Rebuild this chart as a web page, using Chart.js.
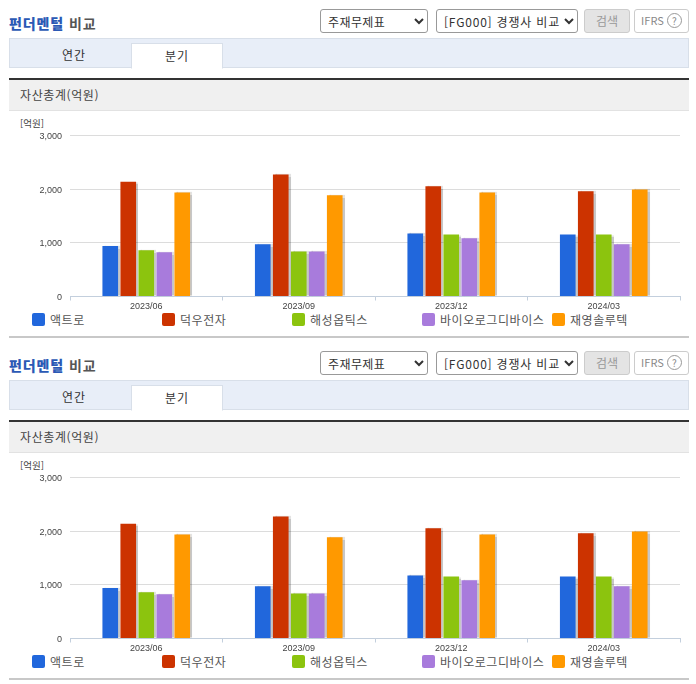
<!DOCTYPE html>
<html lang="ko"><head><meta charset="utf-8">
<script src="https://cdn.jsdelivr.net/npm/chart.js@4"></script>
<style>
html,body{margin:0;padding:0;background:#fff;width:696px;height:684px;overflow:hidden;font-family:"Noto Sans CJK KR",sans-serif;color:#333}
.panel{position:absolute;left:0;width:696px;height:342px}
.a{position:absolute;white-space:nowrap}
.title{left:9px;top:13px;font-size:14px;font-weight:700;line-height:20px;color:#555;letter-spacing:.9px}
.title b{color:#2b59b5}
select{position:absolute;top:9px;height:24px;font:12px "Noto Sans CJK KR",sans-serif;color:#333;background:#fff;border:1px solid #999;border-radius:3px;padding:0 0 0 3px}
.btn{top:9px;height:22px;line-height:21px;text-align:center;font-size:12px;border-radius:3px;box-sizing:content-box}
.tabs{left:9px;top:38px;width:678px;height:28px;background:#e8eef8;border:1px solid #d8dfe9}
.tab{top:43px;left:131px;width:90px;height:24px;background:#fff;border:1px solid #d8dfe9;border-bottom:1px solid #fff;line-height:23px;text-align:center;font-size:12px;letter-spacing:1px}
.head{left:9px;top:78px;width:680px;height:30px;background:#f0f0f0;border-top:2px solid #333;border-bottom:1px solid #e2e2e2;line-height:30px;font-size:12px;color:#444;text-indent:11px;letter-spacing:.6px}
.rule{left:9px;top:336px;width:680px;height:2px;background:#c8c8c8}
.unit{left:20px;top:117px;font-size:9.5px;line-height:12px;color:#444}
.sw{width:13px;height:13px;border-radius:2px;top:313px}
.lg{top:311px;font-size:12px;line-height:17px;color:#555;letter-spacing:.55px}
canvas{position:absolute;left:0;top:112px}
</style></head><body>
<script>
const categories = ["2023/06","2023/09","2023/12","2024/03"];
const companies = ["액트로","덕우전자","해성옵틱스","바이오로그디바이스","재영솔루텍"];
const colors = ["#2167dc","#cc3300","#8cc40e","#a87bdc","#ff9900"];
const actro = [940,975,1175,1155];
const deokwoo = [2140,2275,2055,1960];
const haesung = [860,840,1155,1155];
const biolog = [825,840,1085,975];
const jaeyoung = [1940,1885,1940,1995];
const seriesValues = [actro,deokwoo,haesung,biolog,jaeyoung];
const yTicks = [0,1000,2000,3000];
const metricTitle = "자산총계(억원)";
const legendX = [32,162,292,422,552];

const barShadow = {
  id:'barShadow',
  beforeDatasetsDraw(c){c.ctx.save();c.ctx.shadowColor='rgba(0,0,0,0.22)';c.ctx.shadowOffsetX=2;c.ctx.shadowOffsetY=0;c.ctx.shadowBlur=1;},
  afterDatasetsDraw(c){c.ctx.restore();}
};

function panel(top){
  const p=document.createElement('div');p.className='panel';p.style.top=top+'px';
  p.innerHTML=`
  <div class="a title"><b>펀더멘털</b> 비교</div>
  <select style="left:320px;width:108px;letter-spacing:.4px"><option>주재무제표</option></select>
  <select style="left:436px;width:142px;letter-spacing:.8px"><option>[FG000] 경쟁사 비교</option></select>
  <div class="a btn" style="left:584px;width:44px;background:#e4e4e4;border:1px solid #ccc;color:#999">검색</div>
  <div class="a btn" style="left:634px;width:53px;background:#fff;border:1px solid #ccc;color:#888;font-size:11px">IFRS <span style="display:inline-block;width:13px;height:13px;line-height:13px;border:1px solid #999;border-radius:50%;font-size:10px">?</span></div>
  <div class="a tabs"></div>
  <div class="a" style="left:9px;top:43px;width:130px;line-height:24px;text-align:center;font-size:12px;letter-spacing:1px">연간</div>
  <div class="a tab">분기</div>
  <div class="a head">${metricTitle}</div>
  <div class="a unit">[억원]</div>
  <div class="a rule"></div>`;
  companies.forEach((n,i)=>{
    p.insertAdjacentHTML('beforeend',`<div class="a sw" style="left:${legendX[i]}px;background:${colors[i]}"></div><div class="a lg" style="left:${legendX[i]+18}px">${n}</div>`);
  });
  const cv=document.createElement('canvas');
  cv.width=696;cv.height=200;cv.style.width='696px';cv.style.height='200px';
  p.appendChild(cv);document.body.appendChild(p);
  new Chart(cv,{type:'bar',
    data:{labels:categories,datasets:companies.map((n,i)=>({label:n,data:seriesValues[i],backgroundColor:colors[i],borderWidth:0,categoryPercentage:0.59,barPercentage:0.87}))},
    plugins:[barShadow],
    options:{responsive:false,animation:false,
      layout:{padding:{top:23.5,right:16,left:0,bottom:0}},
      plugins:{legend:{display:false},tooltip:{enabled:false}},
      scales:{
        x:{afterFit(s){s.height=15.5},grid:{drawOnChartArea:false,drawTicks:true,tickLength:4,color:'#c3cfdd',offset:true},border:{color:'#c3cfdd'},
           ticks:{font:{size:9,family:'"Liberation Sans",sans-serif'},color:'#444',padding:1,maxRotation:0}},
        y:{min:0,max:3000,afterFit(s){s.width=70},afterBuildTicks(s){s.ticks=yTicks.map(v=>({value:v}))},
           grid:{color:'#dcdcdc',drawTicks:false},border:{display:false},
           ticks:{font:{size:9,family:'"Liberation Sans",sans-serif'},color:'#444',padding:8,labelOffset:1,callback:v=>v.toLocaleString('en-US')}}
      }}});
}
panel(0);panel(342);
</script>
</body></html>
